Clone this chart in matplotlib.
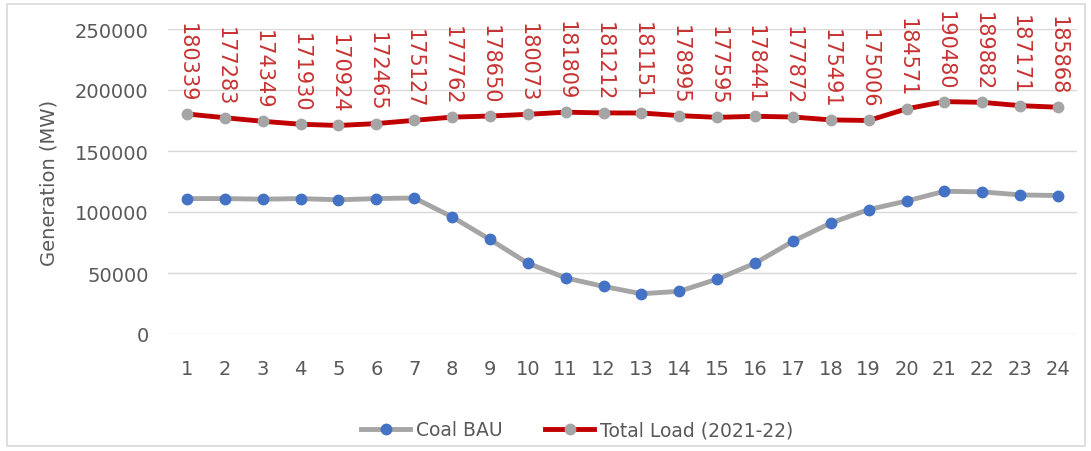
import numpy as np
import matplotlib.pyplot as plt
from matplotlib.patches import Rectangle

plt.rcParams['font.family'] = ['DejaVu Sans']

# Hourly data
hours = list(range(1, 25))
coal_bau = [111000, 111000, 110500, 111000, 110000, 111000, 111500, 96000,
            77500, 58000, 46000, 39000, 33000, 35000, 45000, 58000,
            76000, 91000, 102000, 109000, 117000, 116500, 114000, 113500]
total_load = [180339, 177283, 174349, 171930, 170924, 172465, 175127, 177762,
              178650, 180073, 181809, 181212, 181151, 178995, 177595, 178441,
              177872, 175491, 175006, 184571, 190480, 189882, 187171, 185868]

grey_txt = '#595959'

fig = plt.figure(figsize=(10.91, 4.52), dpi=100)
ax = fig.add_axes([168/1091, 1 - 335/452, (1077 - 168)/1091, (335 - 30)/452])

# chart border
fig.patches.append(Rectangle((7/1091, 5/452), 1078/1091, 442/452, transform=fig.transFigure,
                             fill=False, edgecolor='#d9d9d9', linewidth=1.2))

ax.plot(hours, coal_bau, color='#a5a5a5', linewidth=3.5, marker='o', markersize=7.5,
        markerfacecolor='#4472c4', markeredgecolor='#4472c4', label='Coal BAU', zorder=3)
ax.plot(hours, total_load, color='#c00000', linewidth=3.5, marker='o', markersize=7.5,
        markerfacecolor='#a5a5a5', markeredgecolor='#a5a5a5', label='Total Load (2021-22)', zorder=3)

for h, v in zip(hours, total_load):
    ax.annotate(str(v), (h, v), xytext=(0, 9), textcoords='offset points',
                rotation=270, ha='center', va='bottom', color='#c83232', fontsize=15)

ax.set_xlim(0.5, 24.5)
ax.set_ylim(0, 250000)
ax.set_xticks(hours)
ax.set_yticks(np.arange(0, 250001, 50000))
ax.tick_params(length=0, labelsize=14, colors=grey_txt)
ax.tick_params(axis='y', pad=14)
ax.tick_params(axis='x', pad=18)
ax.grid(axis='y', color='#d9d9d9', linewidth=1)
ax.set_axisbelow(True)
for s in ax.spines.values():
    s.set_visible(False)
ax.set_ylabel('Generation (MW)', color=grey_txt, fontsize=14, labelpad=12)

leg = fig.legend(loc='center', bbox_to_anchor=(577/1091, 1 - 431/452), ncol=2, frameon=False,
                 fontsize=13.5, handlelength=2.6, handletextpad=0.3, columnspacing=2.3)
for t in leg.get_texts():
    t.set_color(grey_txt)

fig.savefig('out.png', dpi=100)
